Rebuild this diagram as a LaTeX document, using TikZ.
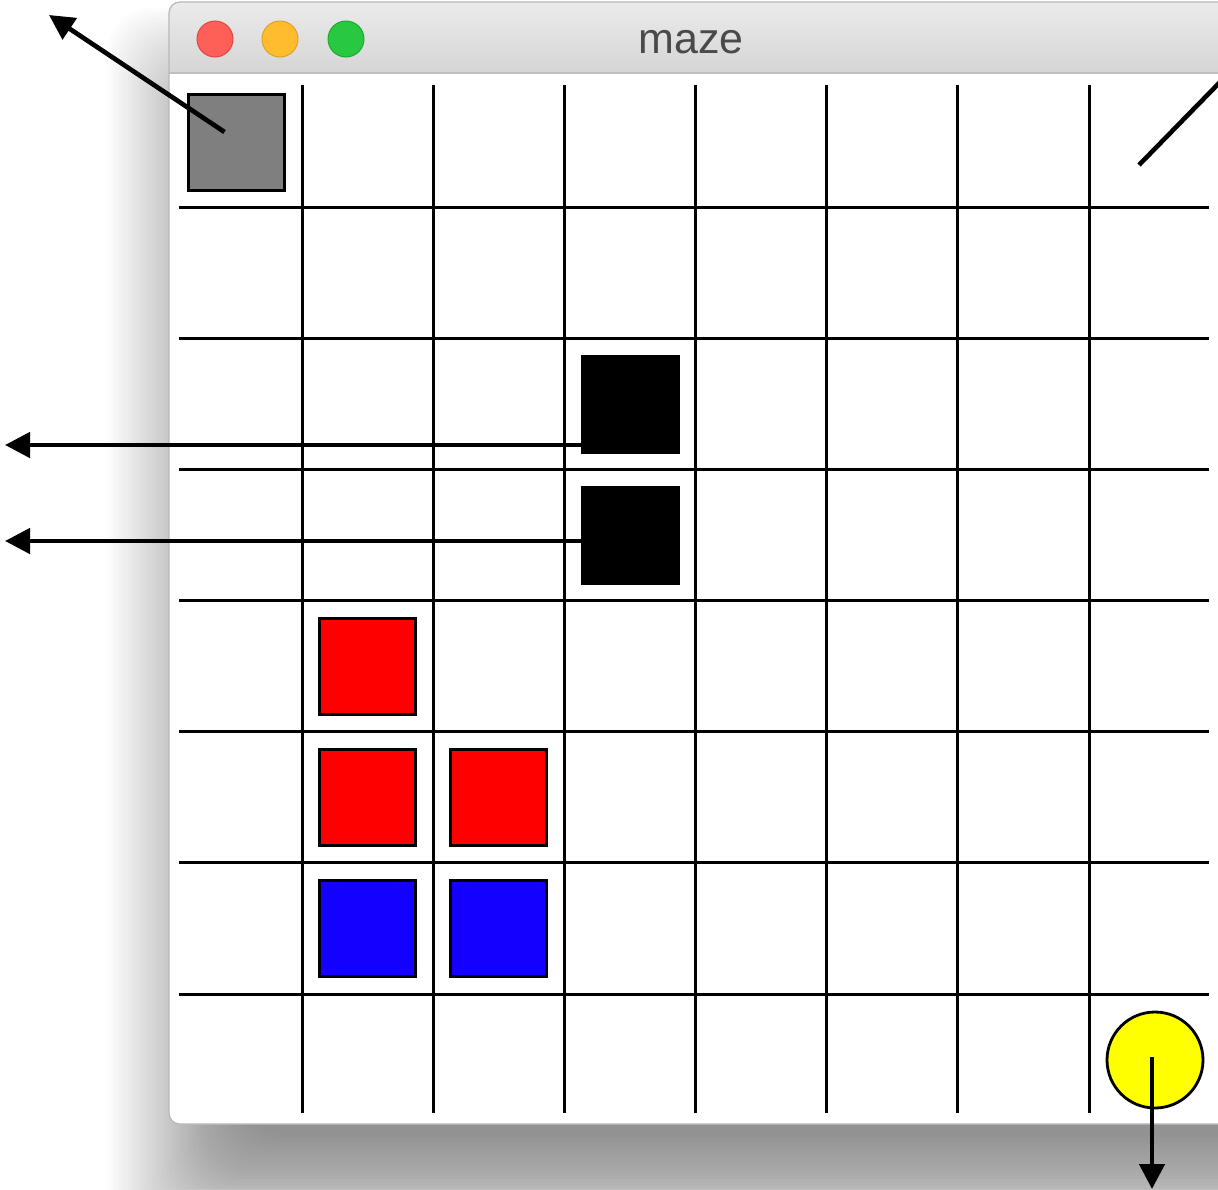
\documentclass[tikz,border=0pt]{standalone}
\usepackage{fontspec}
\setmainfont{Liberation Sans}
\usetikzlibrary{arrows.meta}
\definecolor{tbtop}{HTML}{EBEBEB}
\definecolor{tbbot}{HTML}{D5D5D5}
\definecolor{winedge}{HTML}{B8B8B8}
\definecolor{titlegray}{HTML}{4A4A4A}
\definecolor{tlred}{HTML}{FE5F57}
\definecolor{tlredb}{HTML}{E2463F}
\definecolor{tlyel}{HTML}{FEBC2E}
\definecolor{tlyelb}{HTML}{DEA123}
\definecolor{tlgrn}{HTML}{28C840}
\definecolor{tlgrnb}{HTML}{1AAB29}
\definecolor{cellgray}{HTML}{7F7F7F}
\definecolor{cellred}{HTML}{FF0000}
\definecolor{cellblue}{HTML}{1400FF}
\definecolor{cellyel}{HTML}{FFFF00}
\tikzset{
  gridline/.style={line width=3pt, black},
  cellbox/.style={draw=black, line width=3pt, minimum size=96pt, inner sep=0pt, rectangle},
  sunbox/.style={draw=black, line width=2.8pt, minimum size=96pt, inner sep=0pt, circle, fill=cellyel},
  arr/.style={line width=4.6pt, black, -{Triangle[length=25pt,width=25pt]}},
  plainline/.style={line width=4.6pt, black},
  light/.style={circle, inner sep=0pt, minimum size=36pt, line width=1pt},
}
\begin{document}
\begin{tikzpicture}[x=1pt,y=-1pt]
\useasboundingbox (0,0) rectangle (1218,1189);
\clip (0,0) rectangle (1218,1189);
\fill[white] (0,0) rectangle (1218,1189);
% drop shadow (layered)
\foreach \i in {0,...,39}{
  \pgfmathsetmacro{\e}{-45+3.4*\i}
  \fill[black, opacity=0.0105, rounded corners=45pt]
    (195-\e, 95-\e) rectangle (1320+\e, 1180+\e);
}
% window
\fill[white, rounded corners=11pt] (169,2) rectangle (1250,1124);
\begin{scope}
  \clip[rounded corners=11pt] (169,2) rectangle (1250,1124);
  \shade[top color=tbtop, bottom color=tbbot] (169,2) rectangle (1250,73);
  \draw[line width=1.5pt, color=winedge!90] (169,73) -- (1250,73);
\end{scope}
\draw[winedge, line width=1.2pt, rounded corners=11pt] (169,2) rectangle (1250,1124);
% traffic lights
\node[light, fill=tlred, draw=tlredb] (red) at (215,39) {};
\node[light, fill=tlyel, draw=tlyelb] (yel) at (280,39) {};
\node[light, fill=tlgrn, draw=tlgrnb] (grn) at (346,39) {};
% title
\node[anchor=base, text=titlegray, inner sep=0pt, font=\fontsize{43}{50}\selectfont] (title) at (691,53) {maze};
% grid
\foreach \x in {302,433,564,695,826,957,1089}{
  \draw[gridline] (\x,85) -- (\x,1113);
}
\foreach \y in {207,338,469,600,731,862,994}{
  \draw[gridline] (179,\y) -- (1209,\y);
}
% cells
\node[cellbox, fill=cellgray] (start) at (236.5,142) {};
\node[cellbox, fill=black] (blk1) at (630,404) {};
\node[cellbox, fill=black] (blk2) at (630,535) {};
\node[cellbox, fill=cellred] (red1) at (367.5,666.5) {};
\node[cellbox, fill=cellred] (red2) at (367.5,797.5) {};
\node[cellbox, fill=cellred] (red3) at (498.5,797.5) {};
\node[cellbox, fill=cellblue] (blu1) at (367.5,928.5) {};
\node[cellbox, fill=cellblue] (blu2) at (498.5,928.5) {};
\node[sunbox] (sun) at (1155,1060) {};
% free ends
\coordinate (tl) at (49,15);
\coordinate (l1) at (5,445);
\coordinate (l2) at (5,541);
\coordinate (down) at (1152,1189);
\coordinate (goal) at (1139,165);
\coordinate (tr) at (1224,78);
% connectors
\draw[arr] ([shift={(-12,-10)}]start.center) -- (tl);
\draw[arr] ([shift={(0,41)}]blk1.west) -- (l1);
\draw[arr] ([shift={(0,6)}]blk2.west) -- (l2);
\draw[arr] ([shift={(-3,-3)}]sun.center) -- (down);
\draw[plainline] (goal) -- (tr);
\end{tikzpicture}
\end{document}
